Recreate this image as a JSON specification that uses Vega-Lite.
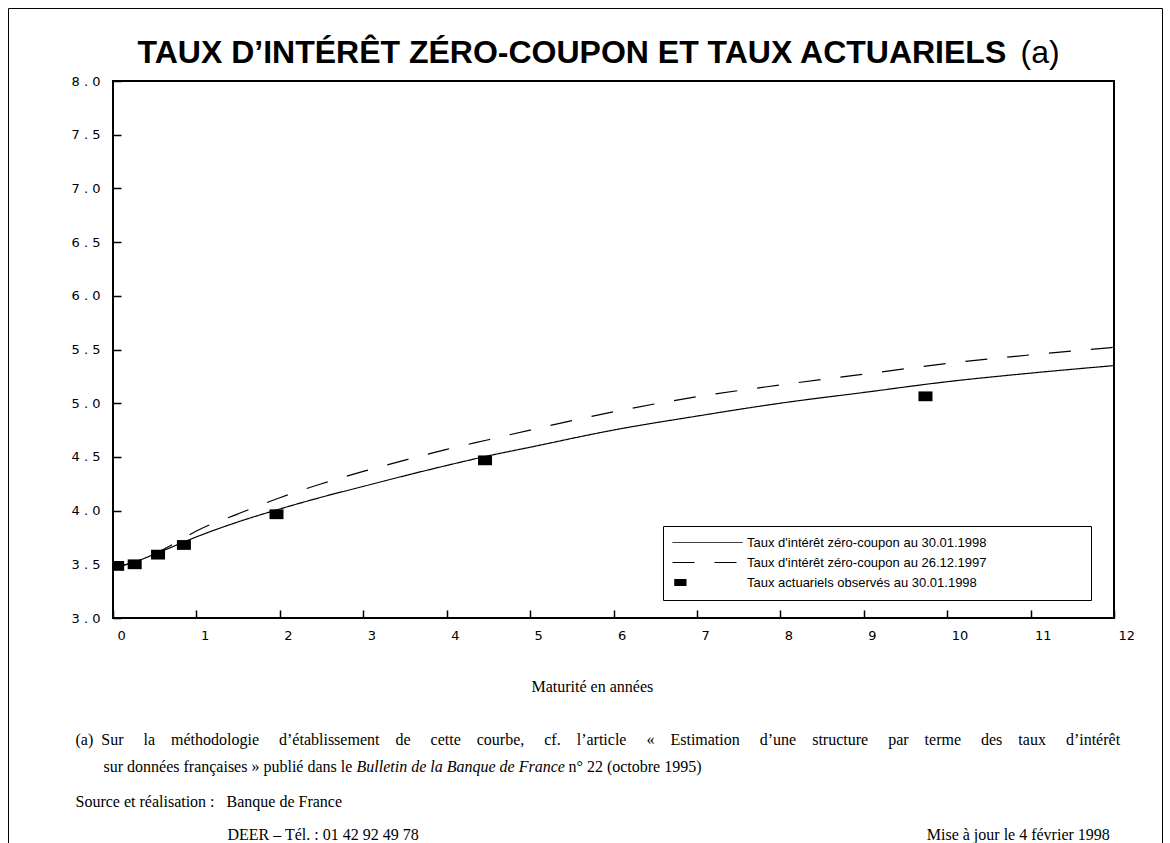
{
  "$schema": "https://vega.github.io/schema/vega-lite/v6.json",
  "width": 1001,
  "height": 537,
  "autosize": "none",
  "padding": {"left": 113, "top": 81, "right": 56, "bottom": 225},
  "background": "white",
  "config": {
    "view": {"stroke": "black", "strokeWidth": 2},
    "axis": {"grid": false, "domain": false, "labelColor": "black", "titleColor": "black", "tickColor": "black"}
  },
  "datasets": {
    "zc0130": [
      {"maturite": 0, "taux": 3.47, "serie": "Taux d'intérêt zéro-coupon au 30.01.1998"},
      {"maturite": 0.25, "taux": 3.52, "serie": "Taux d'intérêt zéro-coupon au 30.01.1998"},
      {"maturite": 0.5, "taux": 3.595, "serie": "Taux d'intérêt zéro-coupon au 30.01.1998"},
      {"maturite": 0.75, "taux": 3.675, "serie": "Taux d'intérêt zéro-coupon au 30.01.1998"},
      {"maturite": 1, "taux": 3.755, "serie": "Taux d'intérêt zéro-coupon au 30.01.1998"},
      {"maturite": 1.5, "taux": 3.895, "serie": "Taux d'intérêt zéro-coupon au 30.01.1998"},
      {"maturite": 2, "taux": 4.015, "serie": "Taux d'intérêt zéro-coupon au 30.01.1998"},
      {"maturite": 2.5, "taux": 4.125, "serie": "Taux d'intérêt zéro-coupon au 30.01.1998"},
      {"maturite": 3, "taux": 4.225, "serie": "Taux d'intérêt zéro-coupon au 30.01.1998"},
      {"maturite": 3.5, "taux": 4.325, "serie": "Taux d'intérêt zéro-coupon au 30.01.1998"},
      {"maturite": 4, "taux": 4.42, "serie": "Taux d'intérêt zéro-coupon au 30.01.1998"},
      {"maturite": 4.5, "taux": 4.51, "serie": "Taux d'intérêt zéro-coupon au 30.01.1998"},
      {"maturite": 5, "taux": 4.59, "serie": "Taux d'intérêt zéro-coupon au 30.01.1998"},
      {"maturite": 6, "taux": 4.75, "serie": "Taux d'intérêt zéro-coupon au 30.01.1998"},
      {"maturite": 7, "taux": 4.88, "serie": "Taux d'intérêt zéro-coupon au 30.01.1998"},
      {"maturite": 8, "taux": 5.0, "serie": "Taux d'intérêt zéro-coupon au 30.01.1998"},
      {"maturite": 9, "taux": 5.1, "serie": "Taux d'intérêt zéro-coupon au 30.01.1998"},
      {"maturite": 10, "taux": 5.2, "serie": "Taux d'intérêt zéro-coupon au 30.01.1998"},
      {"maturite": 11, "taux": 5.28, "serie": "Taux d'intérêt zéro-coupon au 30.01.1998"},
      {"maturite": 12, "taux": 5.35, "serie": "Taux d'intérêt zéro-coupon au 30.01.1998"}
    ],
    "zc1226": [
      {"maturite": 0, "taux": 3.46, "serie": "Taux d'intérêt zéro-coupon au 26.12.1997"},
      {"maturite": 0.25, "taux": 3.52, "serie": "Taux d'intérêt zéro-coupon au 26.12.1997"},
      {"maturite": 0.5, "taux": 3.6, "serie": "Taux d'intérêt zéro-coupon au 26.12.1997"},
      {"maturite": 0.75, "taux": 3.7, "serie": "Taux d'intérêt zéro-coupon au 26.12.1997"},
      {"maturite": 1, "taux": 3.81, "serie": "Taux d'intérêt zéro-coupon au 26.12.1997"},
      {"maturite": 1.5, "taux": 3.97, "serie": "Taux d'intérêt zéro-coupon au 26.12.1997"},
      {"maturite": 2, "taux": 4.12, "serie": "Taux d'intérêt zéro-coupon au 26.12.1997"},
      {"maturite": 2.5, "taux": 4.25, "serie": "Taux d'intérêt zéro-coupon au 26.12.1997"},
      {"maturite": 3, "taux": 4.365, "serie": "Taux d'intérêt zéro-coupon au 26.12.1997"},
      {"maturite": 3.5, "taux": 4.47, "serie": "Taux d'intérêt zéro-coupon au 26.12.1997"},
      {"maturite": 4, "taux": 4.57, "serie": "Taux d'intérêt zéro-coupon au 26.12.1997"},
      {"maturite": 4.5, "taux": 4.66, "serie": "Taux d'intérêt zéro-coupon au 26.12.1997"},
      {"maturite": 5, "taux": 4.75, "serie": "Taux d'intérêt zéro-coupon au 26.12.1997"},
      {"maturite": 6, "taux": 4.92, "serie": "Taux d'intérêt zéro-coupon au 26.12.1997"},
      {"maturite": 7, "taux": 5.06, "serie": "Taux d'intérêt zéro-coupon au 26.12.1997"},
      {"maturite": 8, "taux": 5.17, "serie": "Taux d'intérêt zéro-coupon au 26.12.1997"},
      {"maturite": 9, "taux": 5.27, "serie": "Taux d'intérêt zéro-coupon au 26.12.1997"},
      {"maturite": 10, "taux": 5.37, "serie": "Taux d'intérêt zéro-coupon au 26.12.1997"},
      {"maturite": 11, "taux": 5.45, "serie": "Taux d'intérêt zéro-coupon au 26.12.1997"},
      {"maturite": 12, "taux": 5.52, "serie": "Taux d'intérêt zéro-coupon au 26.12.1997"}
    ],
    "observes": [
      {"maturite": 0.05, "taux": 3.485, "serie": "Taux actuariels observés au 30.01.1998"},
      {"maturite": 0.26, "taux": 3.5, "serie": "Taux actuariels observés au 30.01.1998"},
      {"maturite": 0.54, "taux": 3.59, "serie": "Taux actuariels observés au 30.01.1998"},
      {"maturite": 0.85, "taux": 3.68, "serie": "Taux actuariels observés au 30.01.1998"},
      {"maturite": 1.96, "taux": 3.966, "serie": "Taux actuariels observés au 30.01.1998"},
      {"maturite": 4.46, "taux": 4.468, "serie": "Taux actuariels observés au 30.01.1998"},
      {"maturite": 9.74, "taux": 5.064, "serie": "Taux actuariels observés au 30.01.1998"}
    ]
  },
  "resolve": {"axis": {"x": "independent", "y": "independent"}},
  "layer": [
    {
      "data": {"name": "zc0130"},
      "mark": {"type": "line", "color": "black", "strokeWidth": 1.2, "interpolate": "monotone"},
      "encoding": {
        "x": {
          "field": "maturite", "type": "quantitative",
          "scale": {"domain": [0, 12], "nice": false, "zero": false},
          "axis": {
            "orient": "bottom", "offset": -8, "values": [0,1,2,3,4,5,6,7,8,9,10,11,12], "format": "d",
            "tickSize": 8, "tickWidth": 1.5, "labelFlush": false, "labelOverlap": false,
            "labelFont": "DejaVu Sans", "labelFontSize": 13, "labelAlign": "left", "labelOffset": 4,
            "labelBaseline": "top", "labelPadding": 11,
            "title": "n° 22 (octobre 1995)", "titleFont": "Liberation Serif", "titleFontSize": 16, "titleFontWeight": "normal",
            "titleX": 455, "titleY": 161, "titleAlign": "left", "titleBaseline": "alphabetic"
          }
        },
        "y": {
          "field": "taux", "type": "quantitative",
          "scale": {"domain": [3, 8], "nice": false, "zero": false},
          "axis": {
            "orient": "left", "offset": -8, "values": [3,3.5,4,4.5,5,5.5,6,6.5,7,7.5,8], "format": ".1f",
            "tickSize": 8, "tickWidth": 1.5, "labelOverlap": false, "labelFlush": false,
            "labelFont": "DejaVu Sans", "labelFontSize": 13, "labelPadding": 13,
            "labelExpr": "replace(datum.label, '.', ' . ')",
            "title": [
              "\u200b\u2003\u2003\u2003\u2003\u2003\u2003\u2003\u2003\u2003\u2003\u2003\u2003\u2003\u2003\u2003\u2003\u2003\u2003\u2003\u2003\u2003\u2003\u2003\u2003\u2003\u2003\u2003\u2003\u00a0\u00a0Maturité en années",
              "\u2800",
              "(a)\u00a0\u00a0Sur\u00a0\u00a0\u00a0\u00a0 la\u00a0\u00a0\u00a0 méthodologie\u00a0\u00a0\u00a0\u00a0 d’établissement\u00a0\u00a0\u00a0 de\u00a0\u00a0\u00a0\u00a0 cette\u00a0\u00a0\u00a0 courbe,\u00a0\u00a0\u00a0\u00a0 cf.\u00a0\u00a0\u00a0 l’article\u00a0\u00a0\u00a0\u00a0 «\u00a0\u00a0\u00a0 Estimation\u00a0\u00a0\u00a0\u00a0 d’une\u00a0\u00a0\u00a0 structure\u00a0\u00a0\u00a0\u00a0 par\u00a0\u00a0\u00a0 terme\u00a0\u00a0\u00a0\u00a0 des\u00a0\u00a0\u00a0 taux\u00a0\u00a0\u00a0\u00a0 d’intérêt",
              "\u200b\u00a0\u00a0\u00a0\u00a0\u00a0\u00a0\u00a0sur données françaises » publié dans le"
            ],
            "titleAngle": 0, "titleAlign": "left", "titleBaseline": "alphabetic",
            "titleFont": "Liberation Serif", "titleFontSize": 16, "titleFontWeight": "normal", "titleLineHeight": 26.5,
            "titleX": -46, "titleY": 610.5
          }
        },
        "strokeDash": {
          "field": "serie", "type": "nominal",
          "scale": {
            "domain": ["Taux d'intérêt zéro-coupon au 30.01.1998", "Taux d'intérêt zéro-coupon au 26.12.1997", "Taux actuariels observés au 30.01.1998"],
            "range": [[1, 0], [22, 20], [1, 0]]
          },
          "legend": {
            "orient": "none", "legendX": 550, "legendY": 445, "title": null, "direction": "vertical",
            "padding": 10, "strokeColor": "black", "fillColor": "white",
            "symbolType": "stroke", "symbolSize": 4900, "symbolStrokeWidth": 1, "symbolStrokeColor": "black",
            "symbolOffset": 28,
            "labelFont": "Liberation Sans", "labelFontSize": 13, "labelColor": "black", "labelOffset": 33, "labelLimit": 600,
            "rowPadding": 6,
            "labelExpr": "pad(datum.label, 66, '\u00a0') + '\u200b'",
            "encode": {
              "symbols": {"update": {
                "shape": {"signal": "datum.value === 'Taux actuariels observés au 30.01.1998' ? 'M-0.95,-0.1H-0.6V0.1H-0.95Z' : 'stroke'"},
                "fill": {"signal": "datum.value === 'Taux actuariels observés au 30.01.1998' ? 'black' : 'transparent'"},
                "stroke": {"value": "black"},
                "opacity": {"value": 1},
                "strokeWidth": {"signal": "datum.value === 'Taux actuariels observés au 30.01.1998' ? 0 : 1"}
              }},
              "legend": {"update": {"strokeWidth": {"value": 1}}}
            }
          }
        }
      }
    },
    {
      "data": {"name": "zc1226"},
      "mark": {"type": "line", "color": "black", "strokeWidth": 1.2, "interpolate": "monotone"},
      "encoding": {
        "x": {
          "field": "maturite", "type": "quantitative",
          "axis": {
            "orient": "top", "labels": false, "ticks": false, "domain": false,
            "title": "TAUX D’INTÉRÊT ZÉRO-COUPON ET TAUX ACTUARIELS",
            "titleFont": "Liberation Sans", "titleFontSize": 32, "titleFontWeight": "bold",
            "titleX": 24, "titleY": -19, "titleAlign": "left", "titleBaseline": "alphabetic"
          }
        },
        "y": {
          "field": "taux", "type": "quantitative",
          "axis": {
            "orient": "right", "labels": false, "ticks": false, "domain": false,
            "title": "(a)", "titleAngle": 0,
            "titleFont": "Liberation Sans", "titleFontSize": 32, "titleFontWeight": "normal",
            "titleX": -94, "titleY": -19, "titleAlign": "left", "titleBaseline": "alphabetic"
          }
        },
        "strokeDash": {"field": "serie", "type": "nominal"}
      }
    },
    {
      "data": {"name": "observes"},
      "mark": {"type": "point", "filled": true, "color": "black", "opacity": 1, "size": 196, "strokeWidth": 0, "clip": true},
      "encoding": {
        "x": {
          "field": "maturite", "type": "quantitative",
          "axis": {
            "orient": "bottom", "labels": false, "ticks": false, "domain": false,
            "title": "Bulletin de la Banque de France", "titleFontStyle": "italic",
            "titleFont": "Liberation Serif", "titleFontSize": 16, "titleFontWeight": "normal",
            "titleX": 243, "titleY": 153, "titleAlign": "left", "titleBaseline": "alphabetic"
          }
        },
        "y": {
          "field": "taux", "type": "quantitative",
          "axis": {
            "orient": "left", "labels": false, "ticks": false, "domain": false,
            "title": ["Source et réalisation :\u00a0\u00a0\u00a0Banque de France", "\u200b\u00a0\u00a0\u00a0\u00a0\u00a0\u00a0\u00a0\u00a0\u00a0\u00a0\u00a0\u00a0\u00a0\u00a0\u00a0\u00a0\u00a0\u00a0\u00a0\u00a0\u00a0\u00a0\u00a0\u00a0\u00a0\u00a0\u00a0\u00a0\u00a0\u00a0\u00a0\u00a0\u00a0\u00a0\u00a0\u00a0\u00a0\u00a0DEER – Tél. : 01 42 92 49 78\u00a0\u00a0\u00a0\u00a0\u00a0\u00a0\u00a0\u00a0\u00a0\u00a0\u00a0\u00a0\u00a0\u00a0\u00a0\u00a0\u00a0\u00a0\u00a0\u00a0\u00a0\u00a0\u00a0\u00a0\u00a0\u00a0\u00a0\u00a0\u00a0\u00a0\u00a0\u00a0\u00a0\u00a0\u00a0\u00a0\u00a0\u00a0\u00a0\u00a0\u00a0\u00a0\u00a0\u00a0\u00a0\u00a0\u00a0\u00a0\u00a0\u00a0\u00a0\u00a0\u00a0\u00a0\u00a0\u00a0\u00a0\u00a0\u00a0\u00a0\u00a0\u00a0\u00a0\u00a0\u00a0\u00a0\u00a0\u00a0\u00a0\u00a0\u00a0\u00a0\u00a0\u00a0\u00a0\u00a0\u00a0\u00a0\u00a0\u00a0\u00a0\u00a0\u00a0\u00a0\u00a0\u00a0\u00a0\u00a0\u00a0\u00a0\u00a0\u00a0\u00a0\u00a0\u00a0\u00a0\u00a0\u00a0\u00a0\u00a0\u00a0\u00a0\u00a0\u00a0\u00a0\u00a0\u00a0\u00a0\u00a0\u00a0\u00a0\u00a0\u00a0\u00a0\u00a0\u00a0\u00a0\u00a0\u00a0\u00a0\u00a0\u00a0\u00a0\u00a0\u00a0\u00a0\u00a0Mise à jour le 4 février 1998"],
            "titleAngle": 0, "titleAlign": "left", "titleBaseline": "alphabetic",
            "titleFont": "Liberation Serif", "titleFontSize": 16, "titleFontWeight": "normal", "titleLineHeight": 33,
            "titleX": -38, "titleY": 725
          }
        },
        "shape": {
          "field": "serie", "type": "nominal",
          "scale": {"range": ["M-1,-0.7H1V0.7H-1Z"]},
          "legend": {
            "orient": "none", "legendX": -105, "legendY": -73, "title": null,
            "padding": 567.5, "strokeColor": "black", "fillColor": null,
            "symbolOpacity": 0, "labelOpacity": 0, "symbolSize": 1,
            "labelExpr": "'x'", "labelFontSize": 10,
            "encode": {"legend": {"update": {"strokeWidth": {"value": 2}}}}
          }
        }
      }
    }
  ]
}
